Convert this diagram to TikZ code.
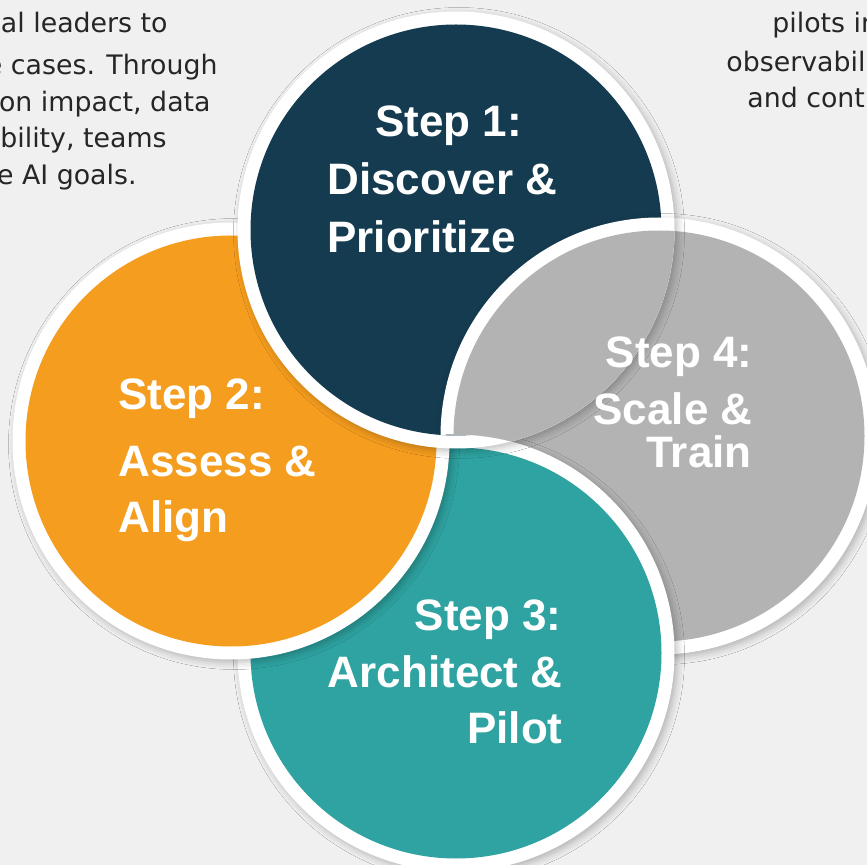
\documentclass[tikz,border=0pt]{standalone}
\usepackage{fontspec}
\setmainfont{DejaVu Sans}
\newfontfamily\stepfont{Liberation Sans}
\usetikzlibrary{shadows.blur}
\definecolor{stepnavy}{HTML}{153B50}
\definecolor{steporange}{HTML}{F59D1E}
\definecolor{stepteal}{HTML}{2EA3A1}
\definecolor{stepgray}{HTML}{B3B3B3}
\definecolor{pagebg}{HTML}{F0F0F0}
\definecolor{bodytext}{HTML}{262626}

\begin{document}
\begin{tikzpicture}[x=0.5pt,y=-0.5pt,
    disc/.style={fill=white,blur shadow={shadow xshift=1.5pt,shadow yshift=-1.5pt,shadow blur radius=3.5pt,shadow opacity=25}},
    steptext/.style={text=white,font=\stepfont\bfseries\fontsize{22pt}{26pt}\selectfont,inner sep=0pt},
    bodyline/.style={text=bodytext,font=\fontsize{13.4pt}{16pt}\selectfont,inner sep=0pt}]
        \fill[pagebg] (0,0) rectangle (867,865);
        \useasboundingbox (0,0) rectangle (867,865);
        \clip (0,0) rectangle (867,865);

        % text cut off by the page edges
        \begin{scope}[every node/.style={bodyline,anchor=base east}]
            \node (l1) at (168,33) {al leaders to};
            \node (l2) at (218,75) {e cases. Through};
            \node (l3) at (211,112) {on impact, data};
            \node (l4) at (167,148) {bility, teams};
            \node (l5) at (137,185) {e AI goals.};
        \end{scope}
        \begin{scope}[every node/.style={bodyline,anchor=base west}]
            \node (r1) at (772,33) {pilots in};
            \node (r2) at (726,72) {observabil};
            \node (r3) at (747,108) {and cont};
        \end{scope}

        % circles, lowest first
        \foreach \cx/\cy/\col in {659/436/stepgray,456/653/stepteal,231/441/steporange,456/230/stepnavy}{
            \fill[disc] (\cx,\cy) circle[radius=109.25pt];
            \fill[\col] (\cx,\cy) circle[radius=102.75pt];
        }
        % step 4 lies over step 1 (but not over step 3)
        \begin{scope}[even odd rule]
            \clip (456,230) circle[radius=109.25pt];
            \clip (0,0) rectangle (867,865) (456,653) circle[radius=109.25pt];
            \fill[disc] (659,436) circle[radius=109.25pt];
            \fill[stepgray] (659,436) circle[radius=102.75pt];
        \end{scope}

        \begin{scope}[every node/.style={steptext,anchor=base west}]
            \node (s1a) at (375,137) {Step 1:};
            \node (s1b) at (327,195) {Discover \&};
            \node (s1c) at (327,253) {Prioritize};
            \node (s2a) at (118,410) {Step 2:};
            \node (s2b) at (118,477) {Assess \&};
            \node (s2c) at (118,533) {Align};
        \end{scope}
        \begin{scope}[every node/.style={steptext,anchor=base east}]
            \node (s3a) at (562,630) {Step 3:};
            \node (s3b) at (563,687) {Architect \&};
            \node (s3c) at (563,743) {Pilot};
            \node (s4a) at (753,368) {Step 4:};
            \node (s4b) at (753,425) {Scale \&};
            \node (s4c) at (752,468) {Train};
        \end{scope}
    \end{tikzpicture}
\end{document}
